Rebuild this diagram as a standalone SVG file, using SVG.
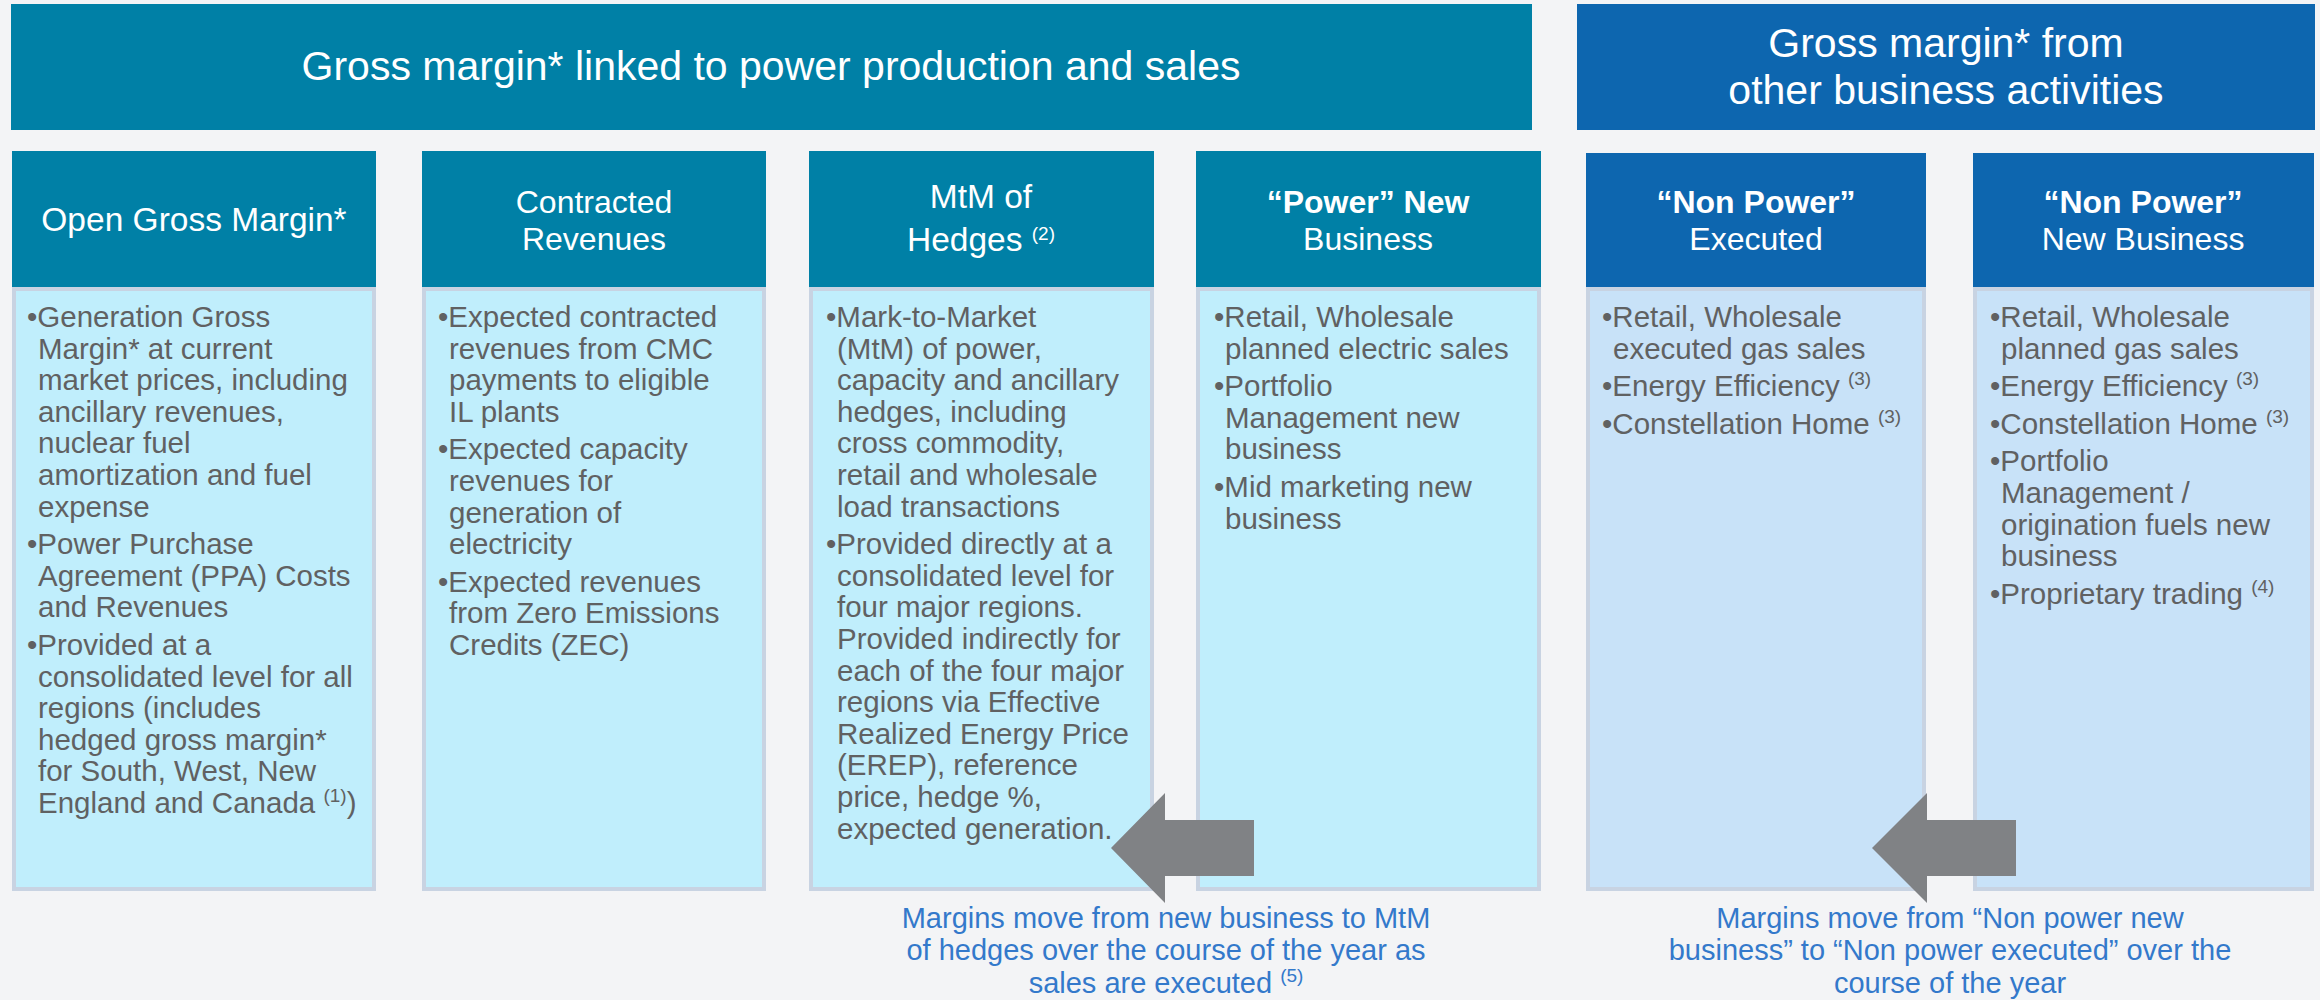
<svg xmlns="http://www.w3.org/2000/svg" width="2320" height="1000" viewBox="0 0 2320 1000">
<defs>
<style>
.bg{fill:#F3F4F6}
.teal{fill:#0080A6}
.blue{fill:#0D66AF}
.bodyA{fill:#C0EEFC;stroke:#C8D3E2;stroke-width:4}
.bodyB{fill:#C8E2F8;stroke:#C8D3E2;stroke-width:4}
.ban{font-family:"Liberation Sans",Arial,sans-serif;font-size:41px;fill:#FFFFFF;text-anchor:middle}
.hd{font-family:"Liberation Sans",Arial,sans-serif;font-size:32px;fill:#FFFFFF;text-anchor:middle}
.hd1{font-size:33.5px}
.hdb{font-weight:bold}
.bt{font-family:"Liberation Sans",Arial,sans-serif;font-size:29.5px;fill:#606162}
.sup{font-size:19px}
.cap{font-family:"Liberation Sans",Arial,sans-serif;font-size:29px;fill:#3379CB;text-anchor:middle}
.arr{fill:#808285}
</style>
</defs>
<rect class="bg" x="0" y="0" width="2320" height="1000"/>

<g id="banner-power">
<rect class="teal" x="11" y="4" width="1521" height="126"/>
<text class="ban" x="771" y="80">Gross margin* linked to power production and sales</text>
</g>
<g id="banner-other">
<rect class="blue" x="1577" y="4" width="738" height="126"/>
<text class="ban"><tspan x="1946" y="57">Gross margin* from</tspan><tspan x="1946" y="104">other business activities</tspan></text>
</g>

<g id="node-open-gross-margin">
<rect class="teal" x="12" y="151" width="364" height="137"/>
<rect class="bodyA" x="14" y="289" width="360" height="600"/>
<text class="hd hd1" x="194" y="231">Open Gross Margin*</text>
<text class="bt">
<tspan x="27" y="327">•Generation Gross</tspan>
<tspan x="38" y="358.6">Margin* at current</tspan>
<tspan x="38" y="390.2">market prices, including</tspan>
<tspan x="38" y="421.8">ancillary revenues,</tspan>
<tspan x="38" y="453.4">nuclear fuel</tspan>
<tspan x="38" y="485">amortization and fuel</tspan>
<tspan x="38" y="516.6">expense</tspan>
<tspan x="27" y="554.2">•Power Purchase</tspan>
<tspan x="38" y="585.8">Agreement (PPA) Costs</tspan>
<tspan x="38" y="617.4">and Revenues</tspan>
<tspan x="27" y="655">•Provided at a</tspan>
<tspan x="38" y="686.6">consolidated level for all</tspan>
<tspan x="38" y="718.2">regions (includes</tspan>
<tspan x="38" y="749.8">hedged gross margin*</tspan>
<tspan x="38" y="781.4">for South, West, New</tspan>
<tspan x="38" y="813">England and Canada </tspan><tspan class="sup" dy="-11">(1)</tspan><tspan dy="11">)</tspan>
</text>
</g>

<g id="node-contracted-revenues">
<rect class="teal" x="422" y="151" width="344" height="137"/>
<rect class="bodyA" x="424" y="289" width="340" height="600"/>
<text class="hd"><tspan x="594" y="213">Contracted</tspan><tspan x="594" y="250">Revenues</tspan></text>
<text class="bt">
<tspan x="438" y="327">•Expected contracted</tspan>
<tspan x="449" y="358.6">revenues from CMC</tspan>
<tspan x="449" y="390.2">payments to eligible</tspan>
<tspan x="449" y="421.8">IL plants</tspan>
<tspan x="438" y="459.4">•Expected capacity</tspan>
<tspan x="449" y="491">revenues for</tspan>
<tspan x="449" y="522.6">generation of</tspan>
<tspan x="449" y="554.2">electricity</tspan>
<tspan x="438" y="591.8">•Expected revenues</tspan>
<tspan x="449" y="623.4">from Zero Emissions</tspan>
<tspan x="449" y="655">Credits (ZEC)</tspan>
</text>
</g>

<g id="node-mtm-hedges">
<rect class="teal" x="809" y="151" width="345" height="137"/>
<rect class="bodyA" x="811" y="289" width="341" height="600"/>
<text class="hd hd1"><tspan x="981" y="208">MtM of</tspan><tspan x="981" y="251">Hedges </tspan><tspan class="sup" dy="-11">(2)</tspan></text>
<text class="bt">
<tspan x="826" y="327">•Mark-to-Market</tspan>
<tspan x="837" y="358.6">(MtM) of power,</tspan>
<tspan x="837" y="390.2">capacity and ancillary</tspan>
<tspan x="837" y="421.8">hedges, including</tspan>
<tspan x="837" y="453.4">cross commodity,</tspan>
<tspan x="837" y="485">retail and wholesale</tspan>
<tspan x="837" y="516.6">load transactions</tspan>
<tspan x="826" y="554.2">•Provided directly at a</tspan>
<tspan x="837" y="585.8">consolidated level for</tspan>
<tspan x="837" y="617.4">four major regions.</tspan>
<tspan x="837" y="649">Provided indirectly for</tspan>
<tspan x="837" y="680.6">each of the four major</tspan>
<tspan x="837" y="712.2">regions via Effective</tspan>
<tspan x="837" y="743.8">Realized Energy Price</tspan>
<tspan x="837" y="775.4">(EREP), reference</tspan>
<tspan x="837" y="807">price, hedge %,</tspan>
<tspan x="837" y="838.6">expected generation.</tspan>
</text>
</g>

<g id="node-power-new-business">
<rect class="teal" x="1196" y="151" width="345" height="137"/>
<rect class="bodyA" x="1198" y="289" width="341" height="600"/>
<text class="hd"><tspan class="hdb" x="1368" y="213">“Power” New</tspan><tspan x="1368" y="250">Business</tspan></text>
<text class="bt">
<tspan x="1214" y="327">•Retail, Wholesale</tspan>
<tspan x="1225" y="358.6">planned electric sales</tspan>
<tspan x="1214" y="396.2">•Portfolio</tspan>
<tspan x="1225" y="427.8">Management new</tspan>
<tspan x="1225" y="459.4">business</tspan>
<tspan x="1214" y="497">•Mid marketing new</tspan>
<tspan x="1225" y="528.6">business</tspan>
</text>
</g>

<g id="node-non-power-executed">
<rect class="blue" x="1586" y="153" width="340" height="135"/>
<rect class="bodyB" x="1588" y="289" width="336" height="600"/>
<text class="hd"><tspan class="hdb" x="1756" y="213">“Non Power”</tspan><tspan x="1756" y="250">Executed</tspan></text>
<text class="bt">
<tspan x="1602" y="327">•Retail, Wholesale</tspan>
<tspan x="1613" y="358.6">executed gas sales</tspan>
<tspan x="1602" y="396.2">•Energy Efficiency <tspan class="sup" dy="-11">(3)</tspan></tspan>
<tspan x="1602" y="433.8">•Constellation Home <tspan class="sup" dy="-11">(3)</tspan></tspan>
</text>
</g>

<g id="node-non-power-new-business">
<rect class="blue" x="1973" y="153" width="341" height="135"/>
<rect class="bodyB" x="1975" y="289" width="337" height="600"/>
<text class="hd"><tspan class="hdb" x="2143" y="213">“Non Power”</tspan><tspan x="2143" y="250">New Business</tspan></text>
<text class="bt">
<tspan x="1990" y="327">•Retail, Wholesale</tspan>
<tspan x="2001" y="358.6">planned gas sales</tspan>
<tspan x="1990" y="396.2">•Energy Efficiency <tspan class="sup" dy="-11">(3)</tspan></tspan>
<tspan x="1990" y="433.8">•Constellation Home <tspan class="sup" dy="-11">(3)</tspan></tspan>
<tspan x="1990" y="471.4">•Portfolio</tspan>
<tspan x="2001" y="503">Management /</tspan>
<tspan x="2001" y="534.6">origination fuels new</tspan>
<tspan x="2001" y="566.2">business</tspan>
<tspan x="1990" y="603.8">•Proprietary trading <tspan class="sup" dy="-11">(4)</tspan></tspan>
</text>
</g>

<g id="connectors">
<polygon class="arr" points="1111,848 1165,793 1165,820 1254,820 1254,876 1165,876 1165,903"/>
<polygon class="arr" points="1872,848 1927,793 1927,820 2016,820 2016,876 1927,876 1927,903"/>
</g>

<g id="caption-power">
<text class="cap"><tspan x="1166" y="928">Margins move from new business to MtM</tspan><tspan x="1166" y="960">of hedges over the course of the year as</tspan><tspan x="1166" y="993">sales are executed </tspan><tspan class="sup" dy="-11">(5)</tspan></text>
</g>
<g id="caption-non-power">
<text class="cap"><tspan x="1950" y="928">Margins move from “Non power new</tspan><tspan x="1950" y="960">business” to “Non power executed” over the</tspan><tspan x="1950" y="993">course of the year</tspan></text>
</g>
</svg>
